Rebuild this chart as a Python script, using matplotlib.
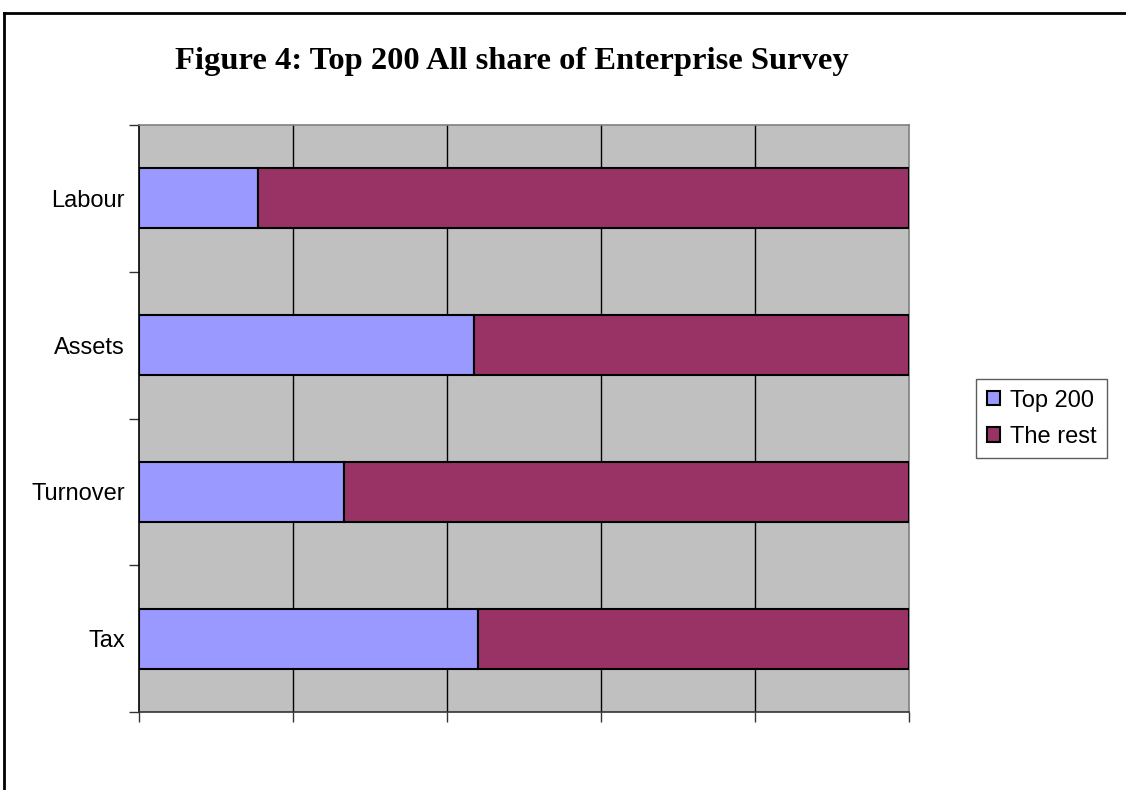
import numpy as np
import matplotlib.pyplot as plt
from matplotlib.lines import Line2D

# Datos
categories = ['Labour', 'Assets', 'Turnover', 'Tax']
top200 = np.array([15.5, 43.5, 26.6, 44.0])
the_rest = 100 - top200

fig = plt.figure(figsize=(11.26, 7.90), dpi=100)
ax = fig.add_axes([139 / 1126, 78 / 790, 770 / 1126, 587 / 790])
ax.set_facecolor('#C0C0C0')

y = np.arange(len(categories))
ax.barh(y, top200, height=0.41, color='#9999FF', edgecolor='black', linewidth=1.5, label='Top 200', zorder=3)
ax.barh(y, the_rest, left=top200, height=0.41, color='#993366', edgecolor='black', linewidth=1.5, label='The rest', zorder=3)

ax.set_xlim(0, 100)
ax.set_ylim(len(categories) - 0.5, -0.5)

ax.set_xticks(np.arange(0, 101, 20))
ax.set_xticklabels([])
ax.tick_params(axis='x', direction='out', length=7, width=1, color='#333333')
for xv in np.arange(20, 100, 20):
    ax.axvline(xv, color='black', linewidth=1, zorder=1)

ax.set_yticks(y)
ax.set_yticklabels(categories, fontfamily='Liberation Sans', fontsize=17)
ax.tick_params(axis='y', which='major', length=0, pad=10)
ax.set_yticks(np.arange(-0.5, len(categories), 1), minor=True)
ax.tick_params(axis='y', which='minor', direction='out', length=7, width=1, color='#333333')

ax.spines['left'].set_color('black')
ax.spines['bottom'].set_color('#333333')
ax.spines['top'].set_color('#808080')
ax.spines['right'].set_color('#808080')
for s in ax.spines.values():
    s.set_linewidth(1.2)

fig.text(512 / 1126, 1 - 61 / 790, 'Figure 4: Top 200 All share of Enterprise Survey',
         fontfamily='Liberation Serif', fontweight='bold', fontsize=23.4, ha='center', va='center')

leg = fig.legend(loc='upper left', bbox_to_anchor=(976 / 1126, 1 - 379 / 790),
                 prop={'family': 'Liberation Sans', 'size': 17}, frameon=True, fancybox=False,
                 edgecolor='#333333', handlelength=0.55, handleheight=0.55, handletextpad=0.45,
                 borderpad=0.45, labelspacing=0.6, borderaxespad=0)
leg.get_frame().set_linewidth(1)

# Marco de la figura
fig.add_artist(Line2D([4 / 1126, 1], [1 - 13 / 790, 1 - 13 / 790], color='black', linewidth=2, transform=fig.transFigure))
fig.add_artist(Line2D([4 / 1126, 4 / 1126], [0, 1 - 13 / 790], color='black', linewidth=2, transform=fig.transFigure))

plt.savefig('out.png', dpi=100)
